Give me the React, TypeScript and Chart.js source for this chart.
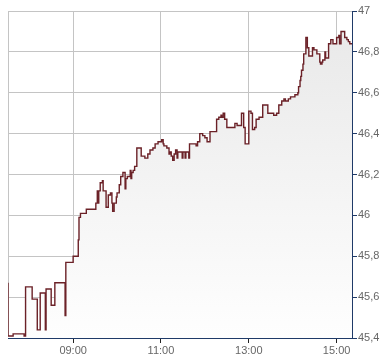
import React, { useEffect, useRef } from "react";
import { Chart, registerables } from "chart.js";

Chart.register(...registerables);

const times = [
  "07:31","07:38","07:53","07:55","08:04","08:11","08:15","08:22","08:23","08:30","08:35","08:49","08:50",
  "09:00","09:07","09:08","09:10","09:18","09:31","09:33","09:34","09:35","09:37","09:40","09:41","09:45",
  "09:48","09:51","09:53","09:54","09:56","09:59","10:00","10:03","10:05","10:08","10:11","10:12","10:14",
  "10:18","10:19","10:20","10:22","10:24","10:27","10:33","10:38","10:42","10:45","10:49","10:52","10:56",
  "11:01","11:03","11:04","11:08","11:11","11:12","11:14","11:16","11:18","11:20","11:22","11:23","11:29",
  "11:30","11:33","11:34","11:38","11:39","11:48","11:50","11:53","11:57","12:00","12:03","12:07","12:16",
  "12:19","12:22","12:23","12:25","12:27","12:30","12:41","12:44","12:50","12:53","12:55","13:00","13:03",
  "13:05","13:08","13:10","13:14","13:19","13:26","13:34","13:38","13:41","13:45","13:48","13:50","13:54",
  "13:57","14:03","14:07","14:08","14:10","14:11","14:12","14:14","14:15","14:18","14:20","14:22","14:27",
  "14:29","14:33","14:37","14:38","14:40","14:41","14:44","14:45","14:49","14:52","14:55","15:00","15:03",
  "15:04","15:06","15:08","15:11","15:14","15:16","15:18","15:21",
];

const prices = [
  45.67,45.41,45.42,45.41,45.65,45.59,45.44,45.62,45.44,45.64,45.56,45.67,45.51,
  45.77,45.80,45.88,45.99,46.01,46.03,46.06,46.12,46.06,46.12,46.16,46.17,46.12,
  46.04,46.10,46.11,46.06,46.02,46.06,46.09,46.11,46.15,46.19,46.21,46.13,46.18,
  46.19,46.22,46.18,46.21,46.22,46.24,46.33,46.29,46.28,46.30,46.32,46.33,46.35,
  46.36,46.37,46.35,46.34,46.33,46.30,46.31,46.29,46.27,46.30,46.32,46.28,46.31,
  46.28,46.31,46.28,46.31,46.28,46.35,46.34,46.36,46.40,46.39,46.38,46.36,46.41,
  46.47,46.48,46.49,46.48,46.50,46.47,46.43,46.45,46.44,46.50,46.43,46.35,46.51,
  46.50,46.42,46.43,46.47,46.48,46.54,46.50,46.49,46.50,46.54,46.56,46.57,46.56,
  46.57,46.58,46.59,46.60,46.63,46.66,46.68,46.71,46.74,46.79,46.87,46.82,46.78,
  46.82,46.81,46.79,46.75,46.74,46.75,46.76,46.80,46.77,46.84,46.86,46.84,46.87,
  46.88,46.84,46.90,46.90,46.87,46.86,46.85,46.84,
];

const xTickLabels = ["09:00", "11:00", "13:00", "15:00"];
const xStart = "07:31";
const xEnd = "15:21";
const yMin = 45.4;
const yMax = 47;
const yStep = 0.2;

const toMin = (s: string) => {
  const [h, m] = s.split(":").map(Number);
  return h * 60 + m;
};
const fmtMin = (v: number) => {
  const h = Math.floor(v / 60);
  const m = Math.round(v - h * 60);
  return `${String(h).padStart(2, "0")}:${String(m).padStart(2, "0")}`;
};

const NAVY = "#1f3a68";
const GRID = "#c4c4c4";

export default function App() {
  const ref = useRef<HTMLCanvasElement | null>(null);

  useEffect(() => {
    document.body.style.margin = "0";
    const canvas = ref.current!;
    const leftBorder = {
      id: "leftBorder",
      beforeDatasetsDraw(chart: any) {
        const { ctx, chartArea } = chart;
        ctx.save();
        ctx.strokeStyle = GRID;
        ctx.lineWidth = 1;
        ctx.beginPath();
        ctx.moveTo(Math.round(chartArea.left) + 0.5, chartArea.top);
        ctx.lineTo(Math.round(chartArea.left) + 0.5, chartArea.bottom);
        ctx.stroke();
        ctx.restore();
      },
    };
    const chart = new Chart(canvas, {
      type: "line",
      data: {
        datasets: [
          {
            data: times.map((t, i) => ({ x: toMin(t), y: prices[i] })),
            borderColor: "#6b2127",
            borderWidth: 1.4,
            stepped: "after",
            pointRadius: 0,
            fill: "start",
            backgroundColor: (ctx: any) => {
              const area = ctx.chart.chartArea;
              if (!area) return "#f2f2f2";
              const g = ctx.chart.ctx.createLinearGradient(0, area.top, 0, area.bottom);
              g.addColorStop(0, "#e8e8e8");
              g.addColorStop(1, "#fefefe");
              return g;
            },
          },
        ],
      },
      options: {
        animation: false,
        responsive: false,
        maintainAspectRatio: false,
        layout: { padding: { left: 8, top: 11, right: 0, bottom: 0 } },
        plugins: { legend: { display: false }, tooltip: { enabled: false } },
        scales: {
          x: {
            type: "linear",
            min: toMin(xStart),
            max: toMin(xEnd),
            afterBuildTicks: (s: any) => {
              s.ticks = xTickLabels.map((l) => ({ value: toMin(l) }));
            },
            afterFit: (s: any) => {
              s.height = 26;
            },
            ticks: {
              callback: (v: any) => fmtMin(Number(v)),
              color: "#666",
              font: { family: "'Liberation Sans', Arial, sans-serif", size: 11 },
              padding: 1,
              maxRotation: 0,
              autoSkip: false,
            },
            grid: { color: GRID, tickColor: "#222", tickLength: 5 },
            border: { color: NAVY, width: 1 },
          },
          y: {
            position: "right",
            min: yMin,
            max: yMax,
            afterBuildTicks: (s: any) => {
              const arr = [];
              for (let i = 0; i <= Math.round((yMax - yMin) / yStep); i++) {
                arr.push({ value: Math.round((yMin + i * yStep) * 10) / 10 });
              }
              s.ticks = arr;
            },
            afterFit: (s: any) => {
              s.width = 38;
            },
            ticks: {
              callback: (v: any) => {
                const r = Math.round(Number(v) * 10) / 10;
                return r % 1 === 0 ? String(r) : r.toFixed(1).replace(".", ",");
              },
              color: "#666",
              font: { family: "'Liberation Sans', Arial, sans-serif", size: 11 },
              padding: 1,
            },
            grid: { color: GRID, tickColor: NAVY, tickLength: 5 },
            border: { color: NAVY, width: 1 },
          },
        },
      },
      plugins: [leftBorder],
    } as any);
    return () => chart.destroy();
  }, []);

  return (
    <div style={{ position: "absolute", left: 0, top: 0, width: 390, height: 364, background: "#fff" }}>
      <canvas ref={ref} width={390} height={364} style={{ width: 390, height: 364 }} />
    </div>
  );
}
